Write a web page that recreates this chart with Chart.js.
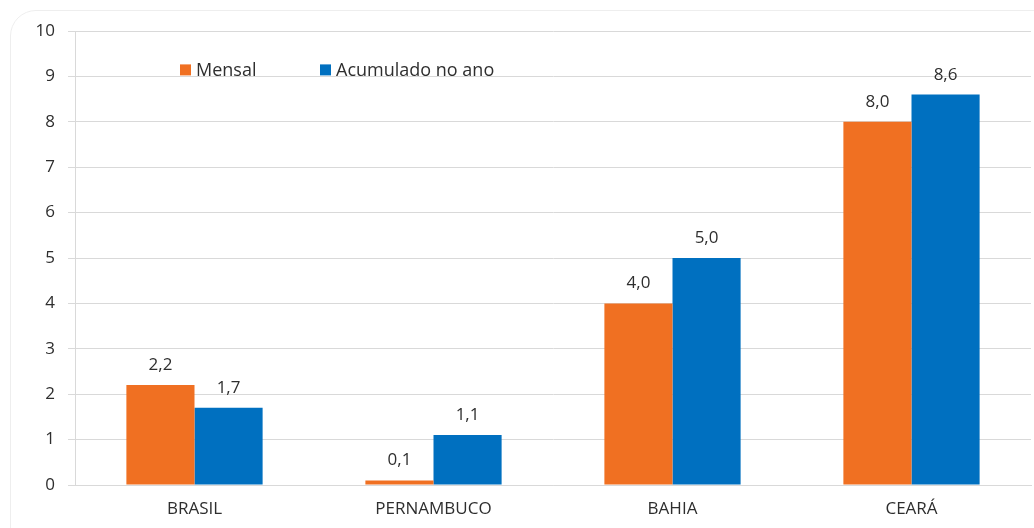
<!DOCTYPE html>
<html>
<head>
<meta charset="utf-8">
<script src="https://cdn.jsdelivr.net/npm/chart.js@4/dist/chart.umd.min.js"></script>
<style>
    html, body { margin: 0; padding: 0; background: #ffffff; }
    #wrap { position: relative; width: 1034px; height: 528px; }
    #frame {
        position: absolute; left: 10px; top: 10px; width: 1060px; height: 560px;
        border: 1px solid #eeeeee; border-radius: 26px; pointer-events: none;
    }
</style>
</head>
<body>
<div id="wrap">
    <div id="frame"></div>
    <canvas id="chart" width="1034" height="528"></canvas>
</div>
<script>
const categories = ['BRASIL', 'PERNAMBUCO', 'BAHIA', 'CEARÁ'];
const mensal = [2.2, 0.1, 4.0, 8.0];
const acumulado = [1.7, 1.1, 5.0, 8.6];
const seriesNames = ['Mensal', 'Acumulado no ano'];
const yTicks = [0, 1, 2, 3, 4, 5, 6, 7, 8, 9, 10];

const colors = {
    orange: '#F07022',
    blue: '#0070C0',
    grid: '#d9d9d9',
    text: '#2e2e2e'
};
const fontFamily = '"Open Sans", "Noto Sans", sans-serif';

// value labels above each bar, decimal comma
const valueLabels = {
    id: 'valueLabels',
    afterDatasetsDraw(chart) {
        const ctx = chart.ctx;
        ctx.save();
        ctx.fillStyle = colors.text;
        ctx.font = '17px ' + fontFamily;
        ctx.textAlign = 'center';
        ctx.textBaseline = 'alphabetic';
        chart.data.datasets.forEach((ds, i) => {
            chart.getDatasetMeta(i).data.forEach((bar, j) => {
                const txt = ds.data[j].toFixed(1).replace('.', ',');
                ctx.fillText(txt, bar.x, bar.y - 15);
            });
        });
        ctx.restore();
    }
};

// legend drawn inside the plot area, near the top left
const innerLegend = {
    id: 'innerLegend',
    afterDraw(chart) {
        const ctx = chart.ctx;
        const area = chart.chartArea;
        const y = chart.scales.y.getPixelForValue(9) - 6;
        let x = area.left + 105;
        ctx.save();
        ctx.font = '18px ' + fontFamily;
        ctx.textBaseline = 'middle';
        ctx.textAlign = 'left';
        chart.data.datasets.forEach((ds, i) => {
            ctx.fillStyle = ds.backgroundColor;
            ctx.fillRect(x, y - 6, 11, 11);
            ctx.fillStyle = colors.text;
            ctx.fillText(ds.label, x + 16, y);
            x += 140;
        });
        ctx.restore();
    }
};

const ctx = document.getElementById('chart').getContext('2d');
const chart = new Chart(ctx, {
    type: 'bar',
    data: {
        labels: categories,
        datasets: [{
            label: seriesNames[0],
            data: mensal,
            backgroundColor: colors.orange,
            barPercentage: 1.0,
            categoryPercentage: 0.57
        },
        {
            label: seriesNames[1],
            data: acumulado,
            backgroundColor: colors.blue,
            barPercentage: 1.0,
            categoryPercentage: 0.57
        }]
    },
    options: {
        responsive: false,
        animation: false,
        layout: { padding: { top: 31, right: 3, left: 0, bottom: 0 } },
        plugins: {
            legend: { display: false },
            tooltip: { enabled: false }
        },
        scales: {
            x: {
                grid: { display: false, drawTicks: false },
                border: { color: colors.grid },
                ticks: {
                    color: colors.text,
                    font: { family: fontFamily, size: 17 },
                    padding: 14
                },
                afterFit(scale) { scale.height = 43; }
            },
            y: {
                min: 0,
                max: 10,
                afterBuildTicks(scale) { scale.ticks = yTicks.map(v => ({ value: v })); },
                grid: { color: colors.grid, tickLength: 7 },
                border: { color: colors.grid },
                ticks: {
                    color: colors.text,
                    font: { family: fontFamily, size: 17 },
                    padding: 13
                },
                afterFit(scale) { scale.width = 75; }
            }
        }
    },
    plugins: [valueLabels, innerLegend]
});
</script>
</body>
</html>
